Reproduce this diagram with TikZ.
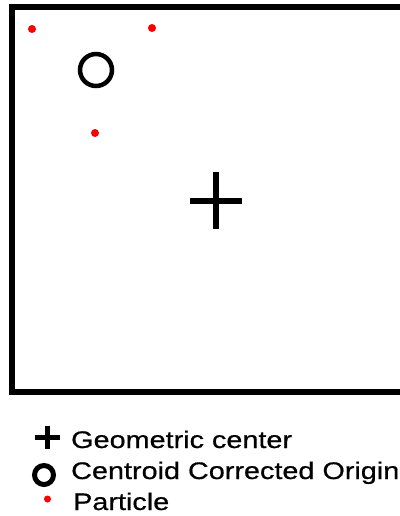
\documentclass[tikz,border=0pt]{standalone}
\usepackage{fontspec}
\newfontfamily\legfont{Liberation Sans}[FakeStretch=1.2,FakeBold=0.6]
\usepackage{tikz}
\tikzset{frame/.style={line width=5.5pt},
  part/.style={circle,fill=red,inner sep=0pt,minimum size=8pt},
  cco/.style={circle,draw,line width=4.5pt,inner sep=0pt,minimum size=32pt},
  bar/.style={line width=6pt},
  legtext/.style={anchor=base west,inner sep=0pt,font=\legfont\fontsize{24}{24}\selectfont}}

\begin{document}
\begin{tikzpicture}[x=1pt,y=-1pt]
\useasboundingbox (0,0) rectangle (399,516);
\draw[frame] (12,7) rectangle (404,392);
\node[part] (p1) at (32,29) {}; \node[part] (p2) at (152,28) {}; \node[part] (p3) at (95,133) {};
\node[cco] (co) at (96,70) {};
\coordinate (gc) at (216,201);
\draw[bar] ([xshift=-26pt]gc) -- ([xshift=26pt]gc); \draw[bar] ([yshift=-28pt]gc) -- ([yshift=29pt]gc);
% legend
\coordinate (lgc) at (47.5,437);
\draw[line width=5pt] ([xshift=-12.5pt]lgc) -- ([xshift=12.5pt]lgc); \draw[line width=5pt] ([yshift=-11.5pt]lgc) -- ([yshift=11.5pt]lgc);
\node[cco,line width=5pt,minimum size=19pt] (lco) at (44,475) {};
\node[part,minimum size=7pt] (lp) at (47.5,499) {};
\node[legtext] (t1) at (71,448) {Geometric center};
\node[legtext] (t2) at (71,479) {Centroid Corrected Origin};
\node[legtext] (t3) at (73,510) {Particle};
\end{tikzpicture}
\end{document}
